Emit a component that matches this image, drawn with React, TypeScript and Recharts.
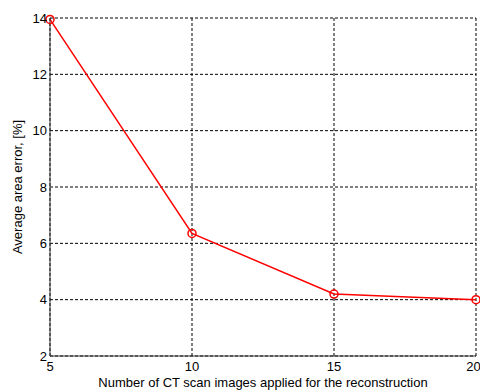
import { LineChart, Line, XAxis, YAxis, CartesianGrid } from 'recharts';

const imageCounts = [5, 10, 15, 20];
const areaErrors = [13.95, 6.35, 4.2, 4.0];
const xTicks = [5, 10, 15, 20];
const yTicks = [2, 4, 6, 8, 10, 12, 14];

const data = imageCounts.map((n, i) => ({ n, err: areaErrors[i] }));

const FONT = '"Liberation Sans", Arial, sans-serif';
const tickStyle = { fontSize: 13, fill: '#000', fontFamily: FONT };

export default function App() {
  return (
    <div style={{ position: 'absolute', left: 0, top: 0, width: 480, height: 392, background: '#fff' }}>
      <LineChart width={480} height={392} data={data} margin={{ top: 18, right: 4, left: 0, bottom: 0 }}>
        <CartesianGrid xAxisId="b" yAxisId="l" stroke="#000" strokeDasharray="3 2" />
        <XAxis
          xAxisId="b"
          dataKey="n"
          type="number"
          domain={[5, 20]}
          ticks={xTicks}
          tickLine={false}
          tickSize={0}
          tickMargin={6}
          height={36}
          axisLine={{ stroke: '#333' }}
          tick={tickStyle}
          label={{ value: 'Number of CT scan images applied for the reconstruction', position: 'insideBottom', offset: 5, style: { fontSize: 13, fill: '#000', fontFamily: FONT } }}
        />
        <XAxis xAxisId="t" orientation="top" type="number" domain={[5, 20]} dataKey="n" height={0} tick={false} tickLine={false} axisLine={{ stroke: '#333' }} />
        <YAxis
          yAxisId="l"
          type="number"
          domain={[2, 14]}
          ticks={yTicks}
          tickLine={false}
          tickSize={0}
          tickMargin={3}
          width={50}
          axisLine={{ stroke: '#333' }}
          tick={tickStyle}
          label={{ value: 'Average area error, [%]', angle: -90, position: 'insideLeft', offset: 17, style: { fontSize: 13, fill: '#000', fontFamily: FONT, textAnchor: 'middle' } }}
        />
        <YAxis yAxisId="r" orientation="right" type="number" domain={[2, 14]} width={0} tick={false} tickLine={false} axisLine={{ stroke: '#333' }} />
        <Line
          xAxisId="b"
          yAxisId="l"
          dataKey="err"
          stroke="#ff0000"
          strokeWidth={1.5}
          dot={{ r: 4, fill: 'none', stroke: '#ff0000', strokeWidth: 1.5 }}
          isAnimationActive={false}
        />
      </LineChart>
    </div>
  );
}
